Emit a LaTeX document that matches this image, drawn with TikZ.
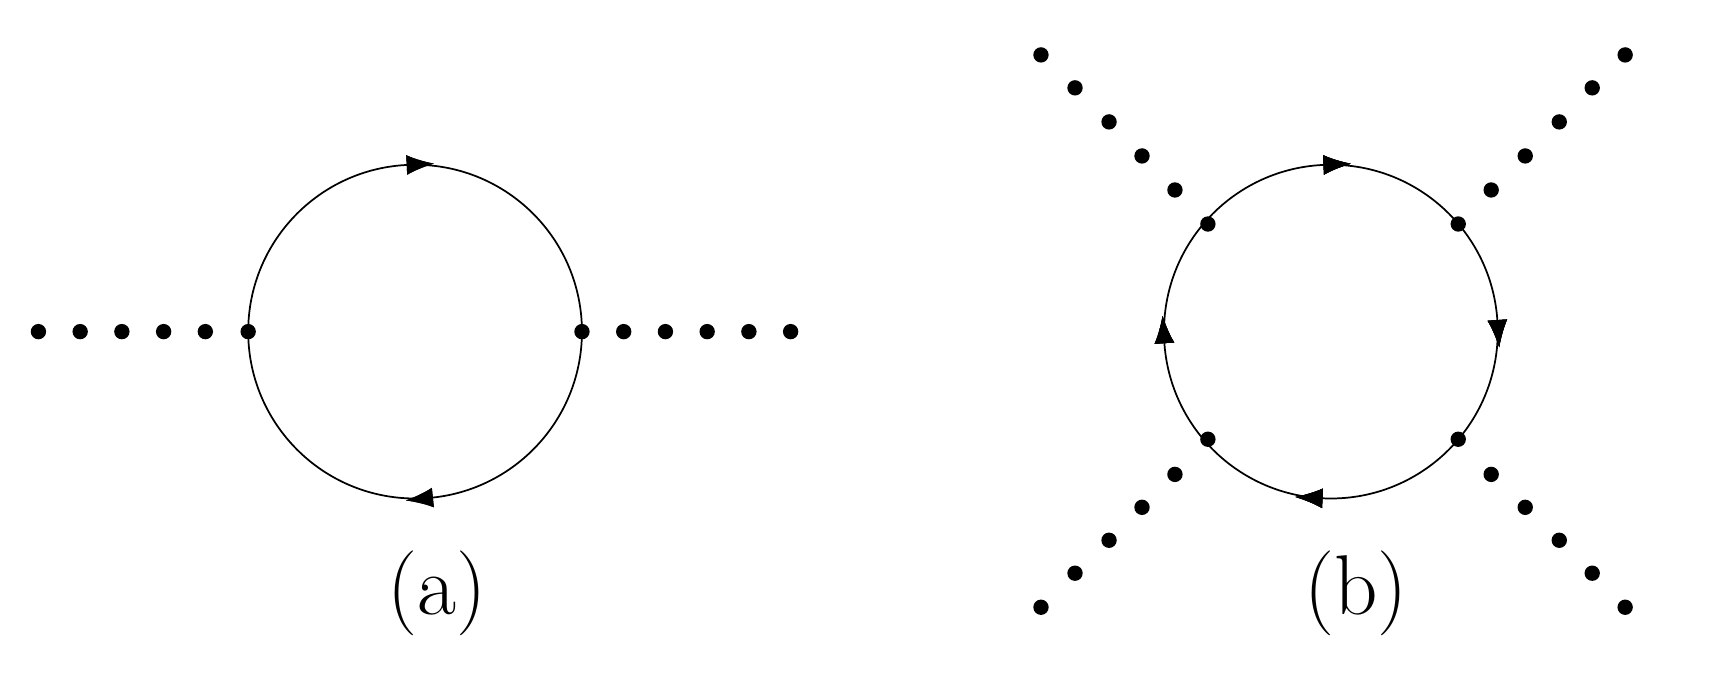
\documentclass[tikz,border=0pt]{standalone}
\usetikzlibrary{decorations.markings,arrows.meta}
\begin{document}
\begin{tikzpicture}[x=0.02cm,y=-0.02cm,
  dotn/.style={circle,fill=black,inner sep=0pt,minimum size=0.28cm},
  loop/.style={line width=0.9pt},
  arr/.style={postaction={decorate},decoration={markings,mark=at position #1 with {\arrow{Latex[reversed,length=0.5cm,width=0.36cm]}}}},
  lab/.style={font=\fontsize{44}{52}\selectfont}]
\useasboundingbox (0,0) rectangle (1560,633);
% (a)
\coordinate (ca) at (378,302);
\draw[loop,arr=0.258,arr=0.767] (ca) circle[radius=3.04cm];
\foreach \x [count=\i] in {35,73,111,149,187,226} \node[dotn] (al\i) at (\x,302) {};
\foreach \x [count=\i] in {530,568,606,644,682,720} \node[dotn] (ar\i) at (\x,302) {};
\node[lab] (la) at (398,540) {(a)};
% (b)
\coordinate (cb) at (1212,302);
\draw[loop,arr=0.011,arr=0.257,arr=0.511,arr=0.742] (cb) circle[radius=3.04cm];
\foreach \x/\y [count=\i] in {1100/204,1070/173,1040/142,1010/111,979/80,948/50} \node[dotn] (ul\i) at (\x,\y) {};
\foreach \x/\y [count=\i] in {1328/204,1358/173,1389/142,1420/111,1450/80,1480/50} \node[dotn] (ur\i) at (\x,\y) {};
\foreach \x/\y [count=\i] in {1100/400,1070/432,1040/462,1010/492,979/522,948/553} \node[dotn] (ll\i) at (\x,\y) {};
\foreach \x/\y [count=\i] in {1328/400,1358/432,1389/462,1420/492,1450/522,1480/553} \node[dotn] (lr\i) at (\x,\y) {};
\node[lab] (lb) at (1235,540) {(b)};
\end{tikzpicture}
\end{document}
